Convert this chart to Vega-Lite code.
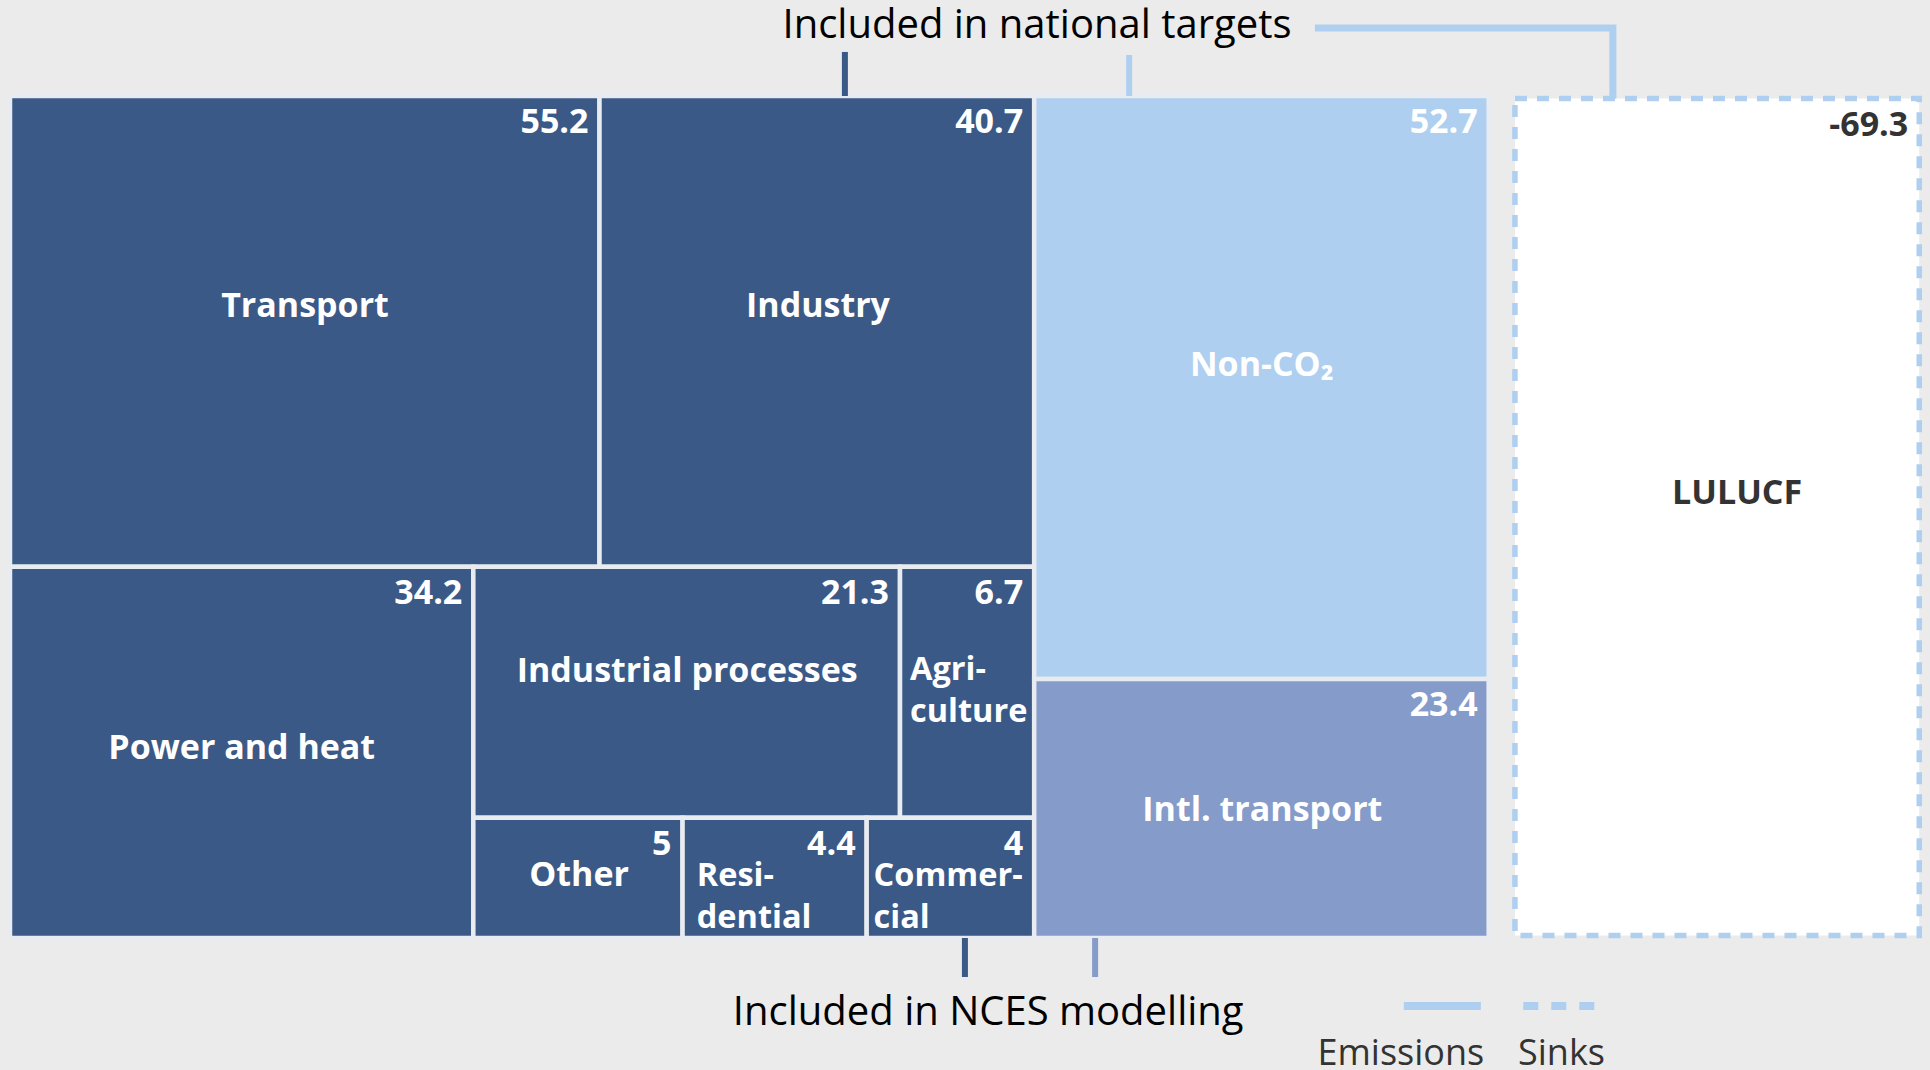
{
  "$schema": "https://vega.github.io/schema/vega-lite/v6.json",
  "width": 1920,
  "height": 842,
  "autosize": {"type": "none"},
  "padding": {"left": 10, "top": 96, "right": 0, "bottom": 132},
  "background": "#ebebeb",
  "config": {"view": {"stroke": null}, "font": "Open Sans"},
  "datasets": {
    "sectors": [
      {"sector": "Transport", "label": "Transport", "value": 55.2, "group": "Targets & NCES", "kind": "Emissions", "x0": 0, "x1": 98.71, "y0": 0, "y1": 0.5592, "lx": 49.4, "ly": 0.2625},
      {"sector": "Industry", "label": "Industry", "value": 40.7, "group": "Targets & NCES", "kind": "Emissions", "x0": 98.71, "x1": 171.5, "y0": 0, "y1": 0.5592, "lx": 135.3, "ly": 0.2625},
      {"sector": "Power and heat", "label": "Power and heat", "value": 34.2, "group": "Targets & NCES", "kind": "Emissions", "x0": 0, "x1": 77.58, "y0": 0.5592, "y1": 1, "lx": 38.8, "ly": 0.7874},
      {"sector": "Industrial processes", "label": "Industrial processes", "value": 21.3, "group": "Targets & NCES", "kind": "Emissions", "x0": 77.58, "x1": 149.03, "y0": 0.5592, "y1": 0.8573, "lx": 113.4, "ly": 0.6955},
      {"sector": "Agriculture", "label": "Agri-\nculture", "value": 6.7, "group": "Targets & NCES", "kind": "Emissions", "x0": 149.03, "x1": 171.5, "y0": 0.5592, "y1": 0.8573, "lx": 150.7, "ly": 0.6936},
      {"sector": "Other", "label": "Other", "value": 5, "group": "Targets & NCES", "kind": "Emissions", "x0": 77.58, "x1": 112.62, "y0": 0.8573, "y1": 1, "lx": 95.3, "ly": 0.9382},
      {"sector": "Residential", "label": "Resi-\ndential", "value": 4.4, "group": "Targets & NCES", "kind": "Emissions", "x0": 112.62, "x1": 143.45, "y0": 0.8573, "y1": 1, "lx": 115.0, "ly": 0.9382},
      {"sector": "Commercial", "label": "Commer-\ncial", "value": 4, "group": "Targets & NCES", "kind": "Emissions", "x0": 143.45, "x1": 171.5, "y0": 0.8573, "y1": 1, "lx": 144.6, "ly": 0.9382},
      {"sector": "Non-CO2", "label": "Non-CO₂", "value": 52.7, "group": "Targets only", "kind": "Emissions", "x0": 171.5, "x1": 247.6, "y0": 0, "y1": 0.6925, "lx": 209.6, "ly": 0.3325},
      {"sector": "Intl. transport", "label": "Intl. transport", "value": 23.4, "group": "NCES only", "kind": "Emissions", "x0": 171.5, "x1": 247.6, "y0": 0.6925, "y1": 1, "lx": 209.7, "ly": 0.861},
      {"sector": "LULUCF", "label": "LULUCF", "value": -69.3, "group": "Sink", "kind": "Sinks", "x0": 252.0, "x1": 319.7, "y0": 0.003, "y1": 0.997, "lx": 289.2, "ly": 0.4846}
    ],
    "ticks": [
      {"x": 139.8, "y": -0.0523, "y2": 0, "tone": "Targets & NCES"},
      {"x": 187.4, "y": -0.0487, "y2": 0, "tone": "Targets only"},
      {"x": 159.9, "y": 1, "y2": 1.0463, "tone": "Targets & NCES"},
      {"x": 181.7, "y": 1, "y2": 1.0463, "tone": "NCES only"}
    ],
    "connector": [
      {"x": 218.5, "y": -0.0808, "seq": 1, "tone": "Targets only"},
      {"x": 268.4, "y": -0.0808, "seq": 2, "tone": "Targets only"},
      {"x": 268.4, "y": 0.003, "seq": 3, "tone": "Targets only"}
    ],
    "legendLines": [
      {"kind": "Emissions", "x": 233.4, "x2": 246.3, "y": 1.0808, "tone": "Targets only"},
      {"kind": "Sinks", "x": 253.4, "x2": 265.4, "y": 1.0808, "tone": "Targets only"}
    ],
    "legendText": [
      {"text": "Emissions", "x": 232.9, "y": 1.151},
      {"text": "Sinks", "x": 259.8, "y": 1.151}
    ],
    "notes": [
      {"text": "Included in national targets", "x": 171.97, "y": -0.069},
      {"text": "Included in NCES modelling", "x": 163.8, "y": 1.1033}
    ]
  },
  "layer": [
    {
      "data": {"name": "sectors"},
      "transform": [{"filter": "datum.kind === 'Emissions'"}],
      "mark": {"type": "rect", "strokeWidth": 4.5, "stroke": "#e8ebf0"},
      "encoding": {
        "x": {"field": "x0", "type": "quantitative", "scale": {"domain": [0, 321.5], "nice": false, "zero": false}, "axis": null},
        "x2": {"field": "x1"},
        "y": {"field": "y0", "type": "quantitative", "scale": {"domain": [0, 1], "nice": false, "zero": false, "reverse": true}, "axis": null},
        "y2": {"field": "y1"},
        "fill": {"field": "group", "type": "nominal", "scale": {"domain": ["Targets & NCES", "Targets only", "NCES only", "Sink"], "range": ["#3a5986", "#aecff0", "#859bc9", "#ffffff"]}, "legend": null}
      }
    },
    {
      "data": {"name": "sectors"},
      "transform": [{"filter": "datum.kind === 'Sinks'"}],
      "mark": {"type": "rect", "strokeWidth": 5.5, "stroke": "#aecff0", "strokeDash": [12, 10]},
      "encoding": {
        "x": {"field": "x0", "type": "quantitative", "scale": {"domain": [0, 321.5], "nice": false, "zero": false}, "axis": null},
        "x2": {"field": "x1"},
        "y": {"field": "y0", "type": "quantitative", "scale": {"domain": [0, 1], "nice": false, "zero": false, "reverse": true}, "axis": null},
        "y2": {"field": "y1"},
        "fill": {"field": "group", "type": "nominal", "scale": {"domain": ["Targets & NCES", "Targets only", "NCES only", "Sink"], "range": ["#3a5986", "#aecff0", "#859bc9", "#ffffff"]}, "legend": null}
      }
    },
    {
      "data": {"name": "sectors"},
      "mark": {"type": "text", "align": "right", "baseline": "alphabetic", "dx": -11, "dy": 37, "fontSize": 34, "fontWeight": 700},
      "encoding": {
        "x": {"field": "x1", "type": "quantitative", "scale": {"domain": [0, 321.5], "nice": false, "zero": false}, "axis": null},
        "y": {"field": "y0", "type": "quantitative", "scale": {"domain": [0, 1], "nice": false, "zero": false, "reverse": true}, "axis": null},
        "text": {"field": "value", "type": "nominal"},
        "color": {"condition": {"test": "datum.kind === 'Sinks'", "value": "#333333"}, "value": "#ffffff"}
      }
    },
    {
      "data": {"name": "sectors"},
      "transform": [{"filter": {"not": {"field": "sector", "oneOf": ["Agriculture", "Residential", "Commercial"]}}}],
      "mark": {"type": "text", "align": "center", "baseline": "alphabetic", "fontSize": 34, "fontWeight": 700, "lineBreak": "\n", "lineHeight": 42},
      "encoding": {
        "x": {"field": "lx", "type": "quantitative", "scale": {"domain": [0, 321.5], "nice": false, "zero": false}, "axis": null},
        "y": {"field": "ly", "type": "quantitative", "scale": {"domain": [0, 1], "nice": false, "zero": false, "reverse": true}, "axis": null},
        "text": {"field": "label", "type": "nominal"},
        "color": {"condition": {"test": "datum.kind === 'Sinks'", "value": "#333333"}, "value": "#ffffff"}
      }
    },
    {
      "data": {"name": "sectors"},
      "transform": [{"filter": {"field": "sector", "oneOf": ["Agriculture", "Residential", "Commercial"]}}],
      "mark": {"type": "text", "align": "left", "baseline": "alphabetic", "fontSize": 32.5, "fontWeight": 700, "lineBreak": "\n", "lineHeight": 42, "color": "#ffffff"},
      "encoding": {
        "x": {"field": "lx", "type": "quantitative", "scale": {"domain": [0, 321.5], "nice": false, "zero": false}, "axis": null},
        "y": {"field": "ly", "type": "quantitative", "scale": {"domain": [0, 1], "nice": false, "zero": false, "reverse": true}, "axis": null},
        "text": {"field": "label", "type": "nominal"}
      }
    },
    {
      "data": {"name": "ticks"},
      "mark": {"type": "rule", "strokeWidth": 6},
      "encoding": {
        "x": {"field": "x", "type": "quantitative", "scale": {"domain": [0, 321.5], "nice": false, "zero": false}, "axis": null},
        "y": {"field": "y", "type": "quantitative", "scale": {"domain": [0, 1], "nice": false, "zero": false, "reverse": true}, "axis": null},
        "y2": {"field": "y2"},
        "color": {"field": "tone", "type": "nominal", "scale": {"domain": ["Targets & NCES", "Targets only", "NCES only"], "range": ["#3a5986", "#aecff0", "#859bc9"]}, "legend": null}
      }
    },
    {
      "data": {"name": "connector"},
      "mark": {"type": "line", "strokeWidth": 7, "strokeJoin": "miter", "strokeCap": "butt"},
      "encoding": {
        "x": {"field": "x", "type": "quantitative", "scale": {"domain": [0, 321.5], "nice": false, "zero": false}, "axis": null},
        "y": {"field": "y", "type": "quantitative", "scale": {"domain": [0, 1], "nice": false, "zero": false, "reverse": true}, "axis": null},
        "order": {"field": "seq", "type": "quantitative"},
        "color": {"field": "tone", "type": "nominal", "scale": {"domain": ["Targets & NCES", "Targets only", "NCES only"], "range": ["#3a5986", "#aecff0", "#859bc9"]}, "legend": null}
      }
    },
    {
      "data": {"name": "legendLines"},
      "mark": {"type": "rule", "strokeWidth": 8},
      "encoding": {
        "x": {"field": "x", "type": "quantitative", "scale": {"domain": [0, 321.5], "nice": false, "zero": false}, "axis": null},
        "x2": {"field": "x2"},
        "y": {"field": "y", "type": "quantitative", "scale": {"domain": [0, 1], "nice": false, "zero": false, "reverse": true}, "axis": null},
        "color": {"field": "tone", "type": "nominal", "scale": {"domain": ["Targets & NCES", "Targets only", "NCES only"], "range": ["#3a5986", "#aecff0", "#859bc9"]}, "legend": null},
        "strokeDash": {"condition": {"test": "datum.kind === 'Sinks'", "value": [15, 13]}, "value": [1, 0]}
      }
    },
    {
      "data": {"name": "notes"},
      "mark": {"type": "text", "align": "center", "baseline": "alphabetic", "fontSize": 40, "fontWeight": 500, "color": "#000000"},
      "encoding": {
        "x": {"field": "x", "type": "quantitative", "scale": {"domain": [0, 321.5], "nice": false, "zero": false}, "axis": null},
        "y": {"field": "y", "type": "quantitative", "scale": {"domain": [0, 1], "nice": false, "zero": false, "reverse": true}, "axis": null},
        "text": {"field": "text", "type": "nominal"}
      }
    },
    {
      "data": {"name": "legendText"},
      "mark": {"type": "text", "align": "center", "baseline": "alphabetic", "fontSize": 36, "fontWeight": 400, "color": "#333333"},
      "encoding": {
        "x": {"field": "x", "type": "quantitative", "scale": {"domain": [0, 321.5], "nice": false, "zero": false}, "axis": null},
        "y": {"field": "y", "type": "quantitative", "scale": {"domain": [0, 1], "nice": false, "zero": false, "reverse": true}, "axis": null},
        "text": {"field": "text", "type": "nominal"}
      }
    }
  ]
}
